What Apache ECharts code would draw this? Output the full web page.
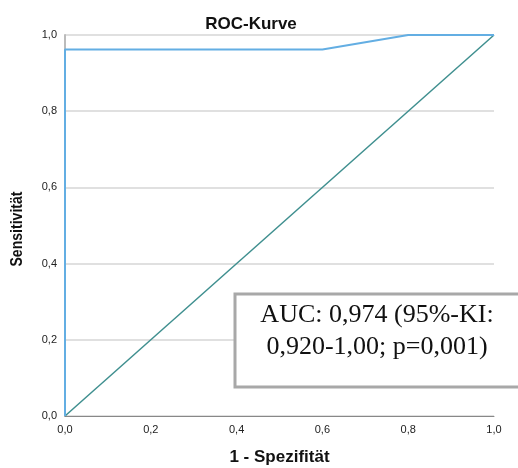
<!DOCTYPE html>
<html>
<head>
<meta charset="utf-8">
<script src="https://cdn.jsdelivr.net/npm/echarts@6/dist/echarts.min.js"></script>
<style>
  html, body { margin: 0; padding: 0; background: #fff; }
  #main { width: 518px; height: 468px; }
</style>
</head>
<body>
<div id="main"></div>
<script>
  // ROC-Kurve: 1 - Spezifität vs. Sensitivität
  var rocX = [0, 0, 0.6, 0.8, 1];
  var rocY = [0, 0.962, 0.962, 1, 1];
  var refX = [0, 1];
  var refY = [0, 1];
  var aucLines = ['AUC: 0,974 (95%-KI:', '0,920-1,00; p=0,001)'];

  function fmt(v) {
    return v.toFixed(1).replace('.', ',');
  }

  var chart = echarts.init(document.getElementById('main'));
  var option = {
    animation: false,
    title: {
      text: 'ROC-Kurve',
      left: 246,
      top: 11,
      textAlign: 'center',
      textStyle: { fontFamily: 'Liberation Sans', fontSize: 17, fontWeight: 'bold', color: '#111' }
    },
    grid: { left: 65, right: 24, top: 35, bottom: 52, outerBoundsMode: 'none' },
    xAxis: {
      type: 'value',
      min: 0, max: 1, interval: 0.2,
      name: '1 - Spezifität',
      nameLocation: 'middle',
      nameGap: 33,
      nameTextStyle: { fontFamily: 'Liberation Sans', fontSize: 17, fontWeight: 'bold', color: '#111' },
      axisLine: { lineStyle: { color: '#888', width: 1 } },
      axisTick: { show: false },
      splitLine: { show: false },
      axisLabel: { formatter: fmt, fontFamily: 'Liberation Sans', fontSize: 11, color: '#222', margin: 8 }
    },
    yAxis: {
      type: 'value',
      min: 0, max: 1, interval: 0.2,
      axisLine: { show: true, lineStyle: { color: '#bbb', width: 2 } },
      axisTick: { show: false },
      splitLine: { lineStyle: { color: '#d6d6d6', width: 1.5 } },
      axisLabel: { formatter: fmt, fontFamily: 'Liberation Sans', fontSize: 11, color: '#222', margin: 8 }
    },
    series: [
      {
        type: 'line',
        data: refX.map(function (x, i) { return [x, refY[i]]; }),
        symbol: 'none',
        lineStyle: { color: '#3f8f8f', width: 1.5 }
      },
      {
        type: 'line',
        data: rocX.map(function (x, i) { return [x, rocY[i]]; }),
        symbol: 'none',
        lineStyle: { color: '#63aee3', width: 2 }
      }
    ],
    graphic: [
      {
        // Achsentitel, schmal gestaucht wie im Original
        type: 'text',
        x: 18, y: 229,
        rotation: Math.PI / 2,
        scaleX: 0.88,
        style: {
          text: 'Sensitivität',
          font: 'bold 16px "Liberation Sans"',
          fill: '#111',
          textAlign: 'center',
          textVerticalAlign: 'middle'
        }
      },
      {
        type: 'rect',
        shape: { x: 235, y: 294, width: 300, height: 93 },
        style: { fill: '#fff', stroke: '#a8a8a8', lineWidth: 3 },
        z: 100
      },
      {
        type: 'text',
        x: 377, y: 331,
        style: {
          text: aucLines.join('\n'),
          font: '26px "Liberation Serif"',
          fill: '#111',
          textAlign: 'center',
          textVerticalAlign: 'middle',
          lineHeight: 32
        },
        z: 101
      }
    ]
  };
  chart.setOption(option);
</script>
</body>
</html>
